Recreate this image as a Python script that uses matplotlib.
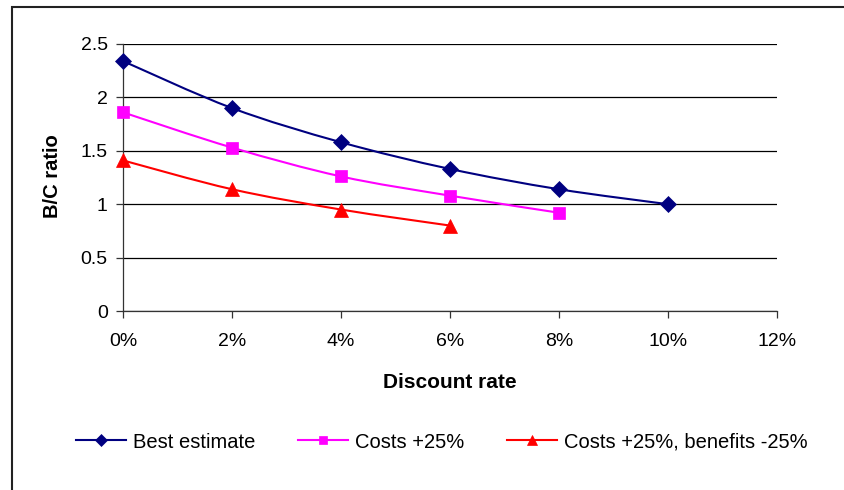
import numpy as np
import matplotlib.pyplot as plt
from matplotlib.path import Path
from matplotlib.patches import PathPatch, Rectangle
from matplotlib.lines import Line2D
from matplotlib.ticker import FuncFormatter, MultipleLocator

plt.rcParams["font.family"] = ["Liberation Sans", "DejaVu Sans"]

# discount rates (%) and benefit/cost ratios per scenario
rates_best = [0, 2, 4, 6, 8, 10]
best = [2.34, 1.90, 1.58, 1.33, 1.14, 1.00]
rates_cost = [0, 2, 4, 6, 8]
cost_up = [1.86, 1.53, 1.26, 1.08, 0.92]
rates_both = [0, 2, 4, 6]
cost_up_ben_down = [1.41, 1.14, 0.95, 0.80]

series = [
    ("Best estimate", rates_best, best, "#000080", "D", 8.5),
    ("Costs +25%", rates_cost, cost_up, "#FF00FF", "s", 8),
    ("Costs +25%, benefits -25%", rates_both, cost_up_ben_down, "#FF0000", "^", 9.5),
]


def smooth_path(x, y):
    # spreadsheet-style smoothed line: cubic bezier through every point
    x = np.asarray(x, float)
    y = np.asarray(y, float)
    verts = [(x[0], y[0])]
    codes = [Path.MOVETO]
    n = len(x)
    for i in range(n - 1):
        x0, y0 = (x[i - 1], y[i - 1]) if i > 0 else (x[i], y[i])
        x3, y3 = (x[i + 2], y[i + 2]) if i + 2 < n else (x[i + 1], y[i + 1])
        c1 = (x[i] + (x[i + 1] - x0) / 6, y[i] + (y[i + 1] - y0) / 6)
        c2 = (x[i + 1] - (x3 - x[i]) / 6, y[i + 1] - (y3 - y[i]) / 6)
        verts += [c1, c2, (x[i + 1], y[i + 1])]
        codes += [Path.CURVE4] * 3
    return Path(verts, codes)


fig = plt.figure(figsize=(8.44, 4.90), dpi=100)
ax = fig.add_axes([123 / 844, 1 - 311 / 490, (777 - 123) / 844, (311 - 44) / 490])

for label, xs, ys, color, marker, ms in series:
    ax.add_patch(PathPatch(smooth_path(xs, ys), facecolor="none",
                           edgecolor=color, lw=1.5, zorder=3))
    ax.plot(xs, ys, linestyle="none", marker=marker, color=color,
            markersize=ms, markeredgewidth=0.5, clip_on=False, zorder=4)

ax.set_xlim(0, 12)
ax.set_ylim(0, 2.5)
ax.xaxis.set_major_locator(MultipleLocator(2))
ax.yaxis.set_major_locator(MultipleLocator(0.5))
ax.xaxis.set_major_formatter(FuncFormatter(lambda v, p: f"{v:.0f}%"))
ax.yaxis.set_major_formatter(FuncFormatter(lambda v, p: f"{v:g}"))
ax.grid(axis="y", color="black", lw=0.9)
ax.set_axisbelow(True)
for side in ("top", "right"):
    ax.spines[side].set_visible(False)
for side in ("left", "bottom"):
    ax.spines[side].set_color("#333333")
    ax.spines[side].set_linewidth(0.9)
ax.tick_params(length=5, width=0.9, colors="#333333", labelcolor="black",
               labelsize=14)
ax.tick_params(axis="x", pad=11)
ax.tick_params(axis="y", pad=6)

ax.set_xlabel("Discount rate", fontsize=15, fontweight="bold")
ax.set_ylabel("B/C ratio", fontsize=14.5, fontweight="bold")
ax.xaxis.set_label_coords(0.5, -0.232)
ax.yaxis.set_label_coords(-0.094, 0.506)

handles = [Line2D([], [], color=c, marker=m, markersize=ms * 0.75,
                  markeredgewidth=0.5, lw=1.5)
           for _, _, _, c, m, ms in series]
fig.legend(handles, [s[0] for s in series], loc="center left",
           bbox_to_anchor=(76 / 844, 1 - 442 / 490), ncol=3, frameon=False,
           fontsize=14.5, handlelength=2.5, handletextpad=0.35,
           columnspacing=2.1, borderpad=0, borderaxespad=0)

# outer chart frame, running off the right and bottom edges
fig.patches.append(Rectangle((12 / 844, -0.1), 1.2, 1 - 7 / 490 + 0.1,
                             transform=fig.transFigure, fill=False,
                             edgecolor="#222222", lw=1.5))

fig.savefig("out.png", dpi=100)
